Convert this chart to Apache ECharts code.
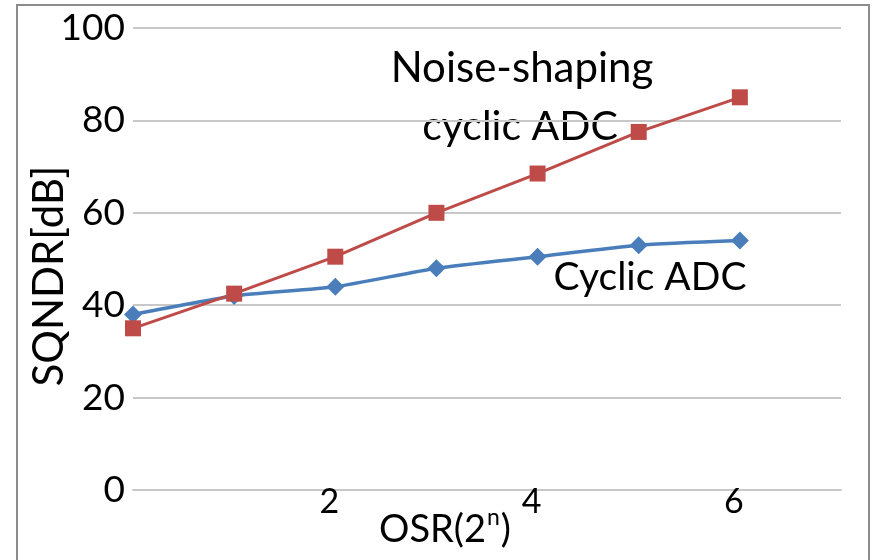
<!DOCTYPE html>
<html>
<head>
<meta charset="utf-8">
<script src="https://cdn.jsdelivr.net/npm/echarts@6/dist/echarts.min.js"></script>
<style>
  html, body { margin: 0; padding: 0; background: #fff; }
  #chart { width: 874px; height: 560px; }
</style>
</head>
<body>
<div id="chart"></div>
<script>
// OSR exponent n on the x axis
const osrN = [0, 1, 2, 3, 4, 5, 6]
const cyclicAdc = [38, 42, 44, 48, 50.5, 53, 54]
const noiseShapingAdc = [35, 42.5, 50.5, 60, 68.5, 77.5, 85]
const xTickLabels = ['', '', '2', '', '4', '', '6', '']

const font = 'Lato, "Open Sans", sans-serif'

const chart = echarts.init(document.getElementById('chart'))

const noteStyle = (text, x, y, size) => ({
  type: 'text',
  silent: true,
  style: {
    text: text,
    x: x,
    y: y,
    align: 'center',
    verticalAlign: 'middle',
    fontSize: size,
    fontFamily: font,
    fill: '#000'
  }
})

const option = {
  animation: false,
  backgroundColor: '#fff',
  textStyle: { fontFamily: font },
  graphic: [
    {
      type: 'rect',
      silent: true,
      z: -1,
      shape: { x: 17, y: 5, width: 852, height: 570 },
      style: { fill: 'none', stroke: '#8c8c8c', lineWidth: 2 }
    },
    noteStyle('Noise-shaping', 522, 68, 42),
    noteStyle('cyclic ADC', 520, 127, 41),
    noteStyle('Cyclic ADC', 650, 277, 39)
  ],
  grid: { left: 133, right: 33, top: 28, bottom: 70, outerBoundsMode: 'none', containLabel: false },
  xAxis: {
    type: 'value',
    min: 0,
    max: 7,
    interval: 1,
    name: '{b|OSR(2}{sup|n}{b|)}',
    nameLocation: 'middle',
    nameGap: 16,
    nameMoveOverlap: false,
    nameTextStyle: {
      fontSize: 38,
      color: '#000',
      padding: [0, 84, 0, 0],
      rich: {
        b: { fontSize: 38, color: '#000', fontFamily: font, verticalAlign: 'bottom' },
        sup: { fontSize: 23, color: '#000', fontFamily: font, verticalAlign: 'bottom', padding: [0, 1, 20, 1] }
      }
    },
    axisLine: { show: true, lineStyle: { color: '#c8c8c8', width: 2 } },
    axisTick: { show: false },
    splitLine: { show: false },
    axisLabel: {
      fontSize: 34,
      color: '#000',
      margin: -5,
      padding: [0, 12, 0, 0],
      formatter: (v) => xTickLabels[v] || ''
    }
  },
  yAxis: {
    type: 'value',
    min: 0,
    max: 100,
    interval: 20,
    name: 'SQNDR[dB]',
    nameLocation: 'middle',
    nameGap: 63,
    nameMoveOverlap: false,
    nameTextStyle: { fontSize: 42, color: '#000', fontFamily: font, padding: [0, 34, 0, 0] },
    axisLine: { show: false },
    axisTick: { show: false },
    splitLine: { lineStyle: { color: '#c8c8c8', width: 2 } },
    axisLabel: { fontSize: 37, color: '#000', margin: 8 }
  },
  series: [
    {
      name: 'Cyclic ADC',
      type: 'line',
      data: osrN.map((n, i) => [n, cyclicAdc[i]]),
      smooth: 0.2,
      symbol: 'diamond',
      symbolSize: 18,
      itemStyle: { color: '#4a7ebb' },
      lineStyle: { color: '#4a7ebb', width: 3.5 }
    },
    {
      name: 'Noise-shaping cyclic ADC',
      type: 'line',
      data: osrN.map((n, i) => [n, noiseShapingAdc[i]]),
      symbol: 'rect',
      symbolSize: 16,
      itemStyle: { color: '#be4b48' },
      lineStyle: { color: '#be4b48', width: 3 }
    }
  ]
}

chart.setOption(option)
</script>
</body>
</html>
